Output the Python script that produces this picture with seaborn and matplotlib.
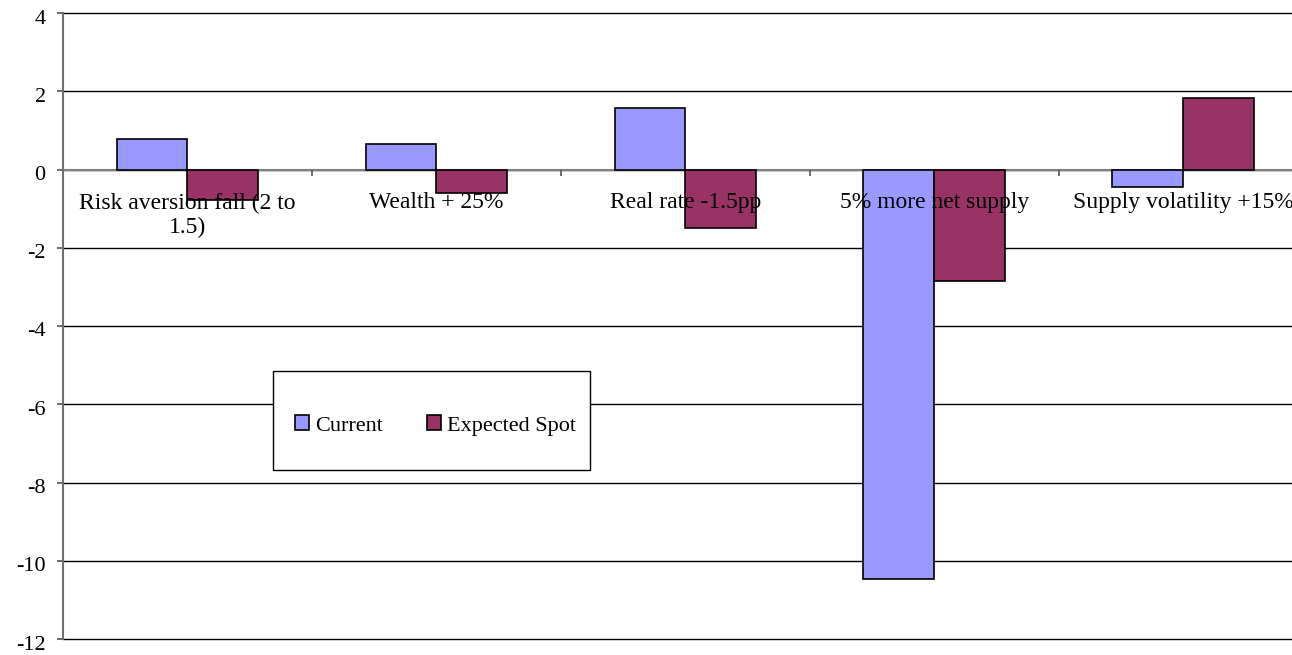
import matplotlib
matplotlib.use("Agg")
import matplotlib.pyplot as plt
from matplotlib.patches import Rectangle
from matplotlib.ticker import FixedLocator
from matplotlib.transforms import ScaledTranslation
import seaborn as sns
import pandas as pd

categories = [
    "Risk aversion fall (2 to\n1.5)",
    "Wealth + 25%",
    "Real rate -1.5pp",
    "5% more net supply",
    "Supply volatility +15%",
]
series_names = ["Current", "Expected Spot"]
current = [0.78, 0.65, 1.56, -10.47, -0.44]
expected_spot = [-0.77, -0.61, -1.49, -2.86, 1.84]
y_ticks = [-12, -10, -8, -6, -4, -2, 0, 2, 4]
colors = ["#9999FF", "#993366"]

df = pd.DataFrame({
    "category": categories * 2,
    "series": [series_names[0]] * len(categories) + [series_names[1]] * len(categories),
    "value": current + expected_spot,
})

sns.set_style("white")
plt.rcParams["font.family"] = ["Liberation Serif", "DejaVu Serif"]
plt.rcParams["text.color"] = "black"

fig = plt.figure(figsize=(12.92, 6.55), dpi=100)
ax = fig.add_axes([63 / 1292, 16 / 655, 1229 / 1292, 626 / 655])

sns.barplot(data=df, x="category", y="value", hue="series", order=categories,
            hue_order=series_names, palette=colors, width=0.57, dodge=True,
            edgecolor="black", linewidth=1.2, saturation=1, ax=ax, zorder=3)

# the last category runs slightly past the right edge of the figure
ax.set_xlim(-0.5, len(categories) - 0.564)
ax.set_ylim(-12, 4)
ax.set_yticks(y_ticks)
ax.set_yticklabels([str(t) for t in y_ticks])
ax.yaxis.grid(True, color="black", linewidth=1.0)
ax.set_axisbelow(True)
for gl in ax.yaxis.get_gridlines():
    gl.set_clip_on(False)
ax.set_xlabel("")
ax.set_ylabel("")

for side in ["top", "right"]:
    ax.spines[side].set_visible(False)
ax.spines["left"].set_color("#707070")
ax.spines["left"].set_linewidth(1.5)
ax.spines["bottom"].set_position(("data", 0))
ax.spines["bottom"].set_color("#808080")
ax.spines["bottom"].set_linewidth(1.5)
ax.spines["bottom"].set_zorder(2)

ax.tick_params(axis="y", which="major", left=True, length=4.5, width=1.2,
               color="#555555", labelsize=16, labelcolor="black", pad=8)
ax.tick_params(axis="x", which="major", bottom=False, labelsize=17,
               labelcolor="black", pad=13)
ax.xaxis.set_minor_locator(FixedLocator([i + 0.5 for i in range(len(categories) - 1)]))
ax.tick_params(axis="x", which="minor", bottom=True, length=4.5, width=1.2,
               color="#555555")
# category names are written over the bars
ax.xaxis.set_zorder(4)
for lbl in ax.get_xticklabels():
    lbl.set_linespacing(1.2)

# y labels sit a little below their gridlines
shift = ScaledTranslation(0, -3.5 / 100, fig.dpi_scale_trans)
for tick in ax.yaxis.get_major_ticks():
    tick.label1.set_transform(tick.label1.get_transform() + shift)

# legend box
box = (0.171, 0.270, 0.258, 0.158)
ax.add_patch(Rectangle(box[:2], box[2], box[3], transform=ax.transAxes,
                       facecolor="white", edgecolor="black", linewidth=1.0,
                       zorder=5))
leg = ax.legend(loc="center", bbox_to_anchor=(box[0] + 0.003, box[1] - 0.008,
                                              box[2], box[3]),
                ncol=2, frameon=False,
                fontsize=16, handlelength=0.65, handleheight=0.65,
                handletextpad=0.25, columnspacing=2.0, borderpad=0.5)
leg.set_zorder(6)
for h in leg.legend_handles:
    h.set_edgecolor("black")
    h.set_linewidth(1.2)
for t in leg.get_texts():
    t.set_color("black")

fig.savefig("out.png", dpi=100, facecolor="white")
